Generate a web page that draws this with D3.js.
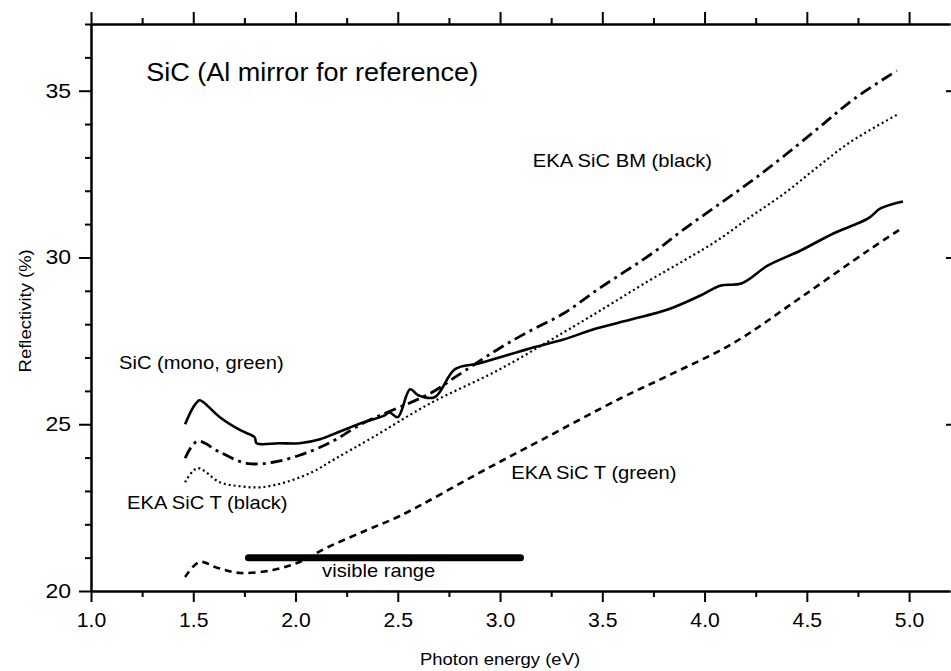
<!DOCTYPE html>
<html>
<head>
<meta charset="utf-8">
<script src="https://cdn.jsdelivr.net/npm/d3@7"></script>
<style>
  body { margin: 0; background: #fff; }
  svg text { font-family: "Liberation Sans", Arial, sans-serif; fill: #000; }
</style>
</head>
<body>
<div id="chart"></div>
<script>
// photon energy (eV) / reflectivity (%)
const monoGreenE = [1.46, 1.50, 1.53, 1.55, 1.63, 1.73, 1.80, 1.81, 1.92, 2.02, 2.12, 2.22, 2.33, 2.43, 2.46, 2.50, 2.56, 2.60, 2.68, 2.78, 2.90, 3.15, 3.31, 3.47, 3.64, 3.82, 3.98, 4.08, 4.18, 4.31, 4.47, 4.63, 4.80, 4.86, 4.97];
const monoGreenR = [25.00, 25.51, 25.72, 25.66, 25.21, 24.82, 24.61, 24.43, 24.43, 24.43, 24.55, 24.79, 25.05, 25.25, 25.35, 25.21, 26.05, 25.87, 25.81, 26.65, 26.83, 27.28, 27.54, 27.87, 28.14, 28.44, 28.86, 29.16, 29.22, 29.76, 30.21, 30.72, 31.17, 31.47, 31.68];

const bmBlackE = [1.46, 1.52, 1.63, 1.76, 1.89, 2.02, 2.12, 2.20, 2.33, 2.66, 2.79, 2.99, 3.15, 3.31, 3.48, 3.75, 3.90, 4.06, 4.22, 4.39, 4.58, 4.73, 4.94];
const bmBlackR = [23.98, 24.49, 24.16, 23.83, 23.86, 24.07, 24.31, 24.55, 25.03, 25.93, 26.45, 27.25, 27.81, 28.32, 29.05, 30.15, 30.85, 31.55, 32.25, 33.05, 34.0, 34.75, 35.6];

const tBlackE = [1.46, 1.52, 1.63, 1.73, 1.83, 1.95, 2.08, 2.19, 2.37, 2.66, 2.99, 3.31, 3.49, 3.73, 3.90, 4.06, 4.22, 4.39, 4.55, 4.71, 4.95];
const tBlackR = [23.26, 23.68, 23.26, 23.14, 23.11, 23.26, 23.56, 23.95, 24.58, 25.63, 26.62, 27.75, 28.41, 29.31, 29.91, 30.5, 31.2, 31.92, 32.7, 33.45, 34.31];

const tGreenE = [1.46, 1.53, 1.62, 1.73, 1.89, 2.02, 2.15, 2.35, 2.51, 2.94, 3.20, 3.59, 3.82, 4.14, 4.47, 4.80, 4.97];
const tGreenR = [20.42, 20.87, 20.69, 20.54, 20.63, 20.87, 21.29, 21.83, 22.25, 23.68, 24.52, 25.78, 26.45, 27.43, 28.8, 30.21, 30.9];

const visibleRange = [1.77, 3.10];
const visibleLevel = 21.0;

const xMajor = [1.0, 1.5, 2.0, 2.5, 3.0, 3.5, 4.0, 4.5, 5.0];
const yMajor = [20, 25, 30, 35];

const labels = [
    { text: "SiC (Al mirror for reference)", e: 1.27, r: 35.3, size: 26, sx: 1.04 },
    { text: "EKA SiC BM (black)", e: 3.16, r: 32.7, size: 18, sx: 1.12 },
    { text: "SiC (mono, green)", e: 1.137, r: 26.65, size: 18, sx: 1.12 },
    { text: "EKA SiC T (black)", e: 1.176, r: 22.46, size: 18, sx: 1.12 },
    { text: "EKA SiC T (green)", e: 3.055, r: 23.35, size: 18, sx: 1.12 },
    { text: "visible range", e: 2.13, r: 20.42, size: 18, sx: 1.12 }
];

const width = 951, height = 671;
const sx = 1.12;   // the original text is a little wider than Arial

const svg = d3.select("#chart")
    .append("svg")
        .attr("width", width)
        .attr("height", height);

svg.append("rect")
    .attr("width", width)
    .attr("height", height)
    .attr("fill", "#fff");

const x = d3.scaleLinear().domain([1.0, 5.2]).range([91, 950]);
const y = d3.scaleLinear().domain([20, 37]).range([591, 24]);

const xMinor = d3.range(1.0, 5.21, 0.25).filter(v => !xMajor.some(m => Math.abs(m - v) < 1e-6));
const yMinor = d3.range(20, 37.01, 1).filter(v => !yMajor.includes(v));

const styleAxis = g => {
    g.select(".domain").attr("stroke-width", 2);
    g.selectAll(".tick line").attr("stroke-width", 2);
    g.selectAll(".tick text")
        .style("font-family", "'Liberation Sans', Arial, sans-serif")
        .attr("fill", "#000");
};

// bottom
svg.append("g")
    .attr("transform", "translate(0," + y(20) + ")")
    .call(d3.axisBottom(x).tickValues(xMinor).tickSize(6).tickSizeOuter(0).tickFormat(""))
    .call(styleAxis);
svg.append("g")
    .attr("class", "x-major")
    .attr("transform", "translate(0," + y(20) + ")")
    .call(d3.axisBottom(x).tickValues(xMajor).tickSize(11).tickSizeOuter(0).tickPadding(7).tickFormat(d3.format(".1f")))
    .call(styleAxis);

// top
svg.append("g")
    .attr("transform", "translate(0," + y(37) + ")")
    .call(d3.axisTop(x).tickValues(xMinor).tickSize(6).tickSizeOuter(0).tickFormat(""))
    .call(styleAxis);
svg.append("g")
    .attr("transform", "translate(0," + y(37) + ")")
    .call(d3.axisTop(x).tickValues(xMajor).tickSize(12).tickSizeOuter(0).tickFormat(""))
    .call(styleAxis);

// left
svg.append("g")
    .attr("transform", "translate(" + x(1.0) + ",0)")
    .call(d3.axisLeft(y).tickValues(yMinor).tickSize(6).tickSizeOuter(0).tickFormat(""))
    .call(styleAxis);
svg.append("g")
    .attr("class", "y-major")
    .attr("transform", "translate(" + x(1.0) + ",0)")
    .call(d3.axisLeft(y).tickValues(yMajor).tickSize(12).tickSizeOuter(0).tickPadding(6))
    .call(styleAxis);

// right edge: only the inner ends of the major ticks are inside the picture
svg.append("g")
    .attr("transform", "translate(" + (x(5.2) + 1) + ",0)")
    .call(d3.axisRight(y).tickValues([25, 30, 35]).tickSize(-5).tickFormat(""))
    .call(g => g.select(".domain").remove())
    .call(styleAxis);

// tick labels, a bit wider than Arial like the source
svg.selectAll(".x-major .tick text")
    .style("font-size", "20px")
    .attr("dy", "0.71em")
    .attr("y", 22)
    .attr("transform", "scale(1.06,1)")
    .attr("x", 0);
svg.selectAll(".y-major .tick text")
    .style("font-size", "20px")
    .attr("x", -20 / 1.15)
    .attr("transform", "scale(1.15,1)");

// curves
const line = d3.line()
    .curve(d3.curveCatmullRom.alpha(0.5))
    .x(d => x(d[0]))
    .y(d => y(d[1]));
const smooth = d3.line()
    .curve(d3.curveCatmullRom)
    .x(d => x(d[0]))
    .y(d => y(d[1]));

const series = [
    { e: tGreenE, r: tGreenR, gen: smooth, w: 2.6, dash: "7,5" },
    { e: tBlackE, r: tBlackR, gen: smooth, w: 2.2, dash: "2,3" },
    { e: bmBlackE, r: bmBlackR, gen: smooth, w: 2.8, dash: "12,5,3,5" },
    { e: monoGreenE, r: monoGreenR, gen: line, w: 2.6, dash: null }
];

svg.selectAll(".curve")
    .data(series)
    .join("path")
        .attr("class", "curve")
        .attr("d", d => d.gen(d.e.map((v, i) => [v, d.r[i]])))
        .attr("fill", "none")
        .attr("stroke", "#000")
        .attr("stroke-width", d => d.w)
        .attr("stroke-dasharray", d => d.dash)
        .attr("stroke-linejoin", "round");

// visible range bar
svg.append("line")
    .attr("x1", x(visibleRange[0]))
    .attr("x2", x(visibleRange[1]))
    .attr("y1", y(visibleLevel))
    .attr("y2", y(visibleLevel))
    .attr("stroke", "#000")
    .attr("stroke-width", 7)
    .attr("stroke-linecap", "round");

// annotations
svg.selectAll(".label")
    .data(labels)
    .join("text")
        .attr("class", "label")
        .attr("transform", d => "translate(" + x(d.e) + "," + y(d.r) + ") scale(" + d.sx + ",1)")
        .style("font-size", d => d.size + "px")
        .text(d => d.text);

// axis titles
svg.append("text")
    .attr("transform", "translate(" + x(3.0) + ",665) scale(" + sx + ",1)")
    .attr("text-anchor", "middle")
    .style("font-size", "16.5px")
    .text("Photon energy (eV)");

svg.append("text")
    .attr("transform", "translate(31," + y(28.4) + ") rotate(-90) scale(" + sx + ",1)")
    .attr("text-anchor", "middle")
    .style("font-size", "16.5px")
    .text("Reflectivity (%)");
</script>
</body>
</html>
